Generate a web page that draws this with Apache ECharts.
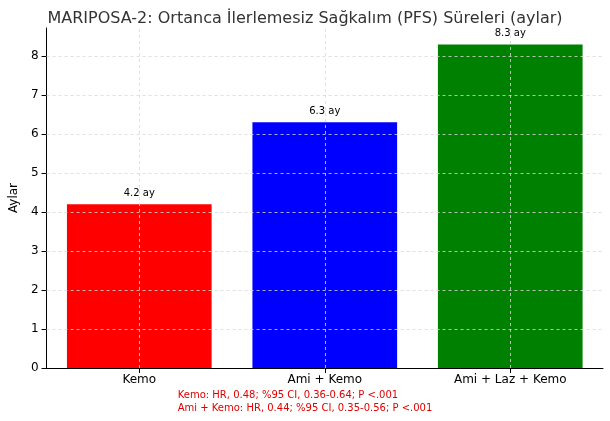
<!DOCTYPE html><html><head><meta charset="utf-8">
<script src="https://cdn.jsdelivr.net/npm/echarts@6/dist/echarts.min.js"></script>
<style>html,body{margin:0;background:#fff}#c{width:610px;height:421px}</style></head><body><div id="c"></div>
<script>
const categories=['Kemo','Ami + Kemo','Ami + Laz + Kemo'];
const values=[4.2,6.3,8.3];
const colors=['#ff0000','#0000ff','#008000'];
const yTicks=[0,1,2,3,4,5,6,7,8];
const title='MARIPOSA-2: Ortanca İlerlemesiz Sağkalım (PFS) Süreleri (aylar)';
const notes=['Kemo: HR, 0.48; %95 CI, 0.36-0.64; P <.001','Ami + Kemo: HR, 0.44; %95 CI, 0.35-0.56; P <.001'];
const ff='DejaVu Sans';
const grid={color:'#d8d8d8',type:[3,3],width:0.8};
const chart=echarts.init(document.getElementById('c'));
chart.setOption({
 animation:false,
 textStyle:{fontFamily:ff},
 title:{text:title,left:'center',top:6,textStyle:{fontFamily:ff,fontSize:16,fontWeight:'normal',color:'#333'}},
 graphic:[{type:'text',left:'center',top:389,style:{text:notes.join('\n'),fill:'#e00000',fontSize:10,fontFamily:ff,align:'center',lineHeight:13}}],
 grid:{left:33,right:7,top:28,bottom:53},
 xAxis:{type:'category',data:categories,axisTick:{show:true,alignWithLabel:true,lineStyle:{color:'#000'}},axisLine:{lineStyle:{color:'#000'}},axisLabel:{color:'#000',fontSize:12,margin:6}},
 yAxis:{type:'value',min:0,max:8.72,interval:1,name:'Aylar',nameLocation:'middle',nameGap:20,nameTextStyle:{color:'#000',fontSize:12},
  axisLine:{show:true,lineStyle:{color:'#000'}},axisTick:{show:true,lineStyle:{color:'#000'}},axisLabel:{color:'#000',fontSize:12,showMaxLabel:false},splitLine:{show:false}},
 series:[{type:'bar',barWidth:'78%',
  data:values.map((v,i)=>({value:v,itemStyle:{color:colors[i]}})),
  label:{show:true,position:'top',formatter:p=>p.value+' ay',color:'#000',fontSize:10,distance:6},
  markLine:{silent:true,symbol:'none',label:{show:false},lineStyle:grid,
   data:[...categories.map(c=>({xAxis:c})),...yTicks.filter(t=>t>0).map(t=>({yAxis:t}))]}}]
});
</script></body></html>
